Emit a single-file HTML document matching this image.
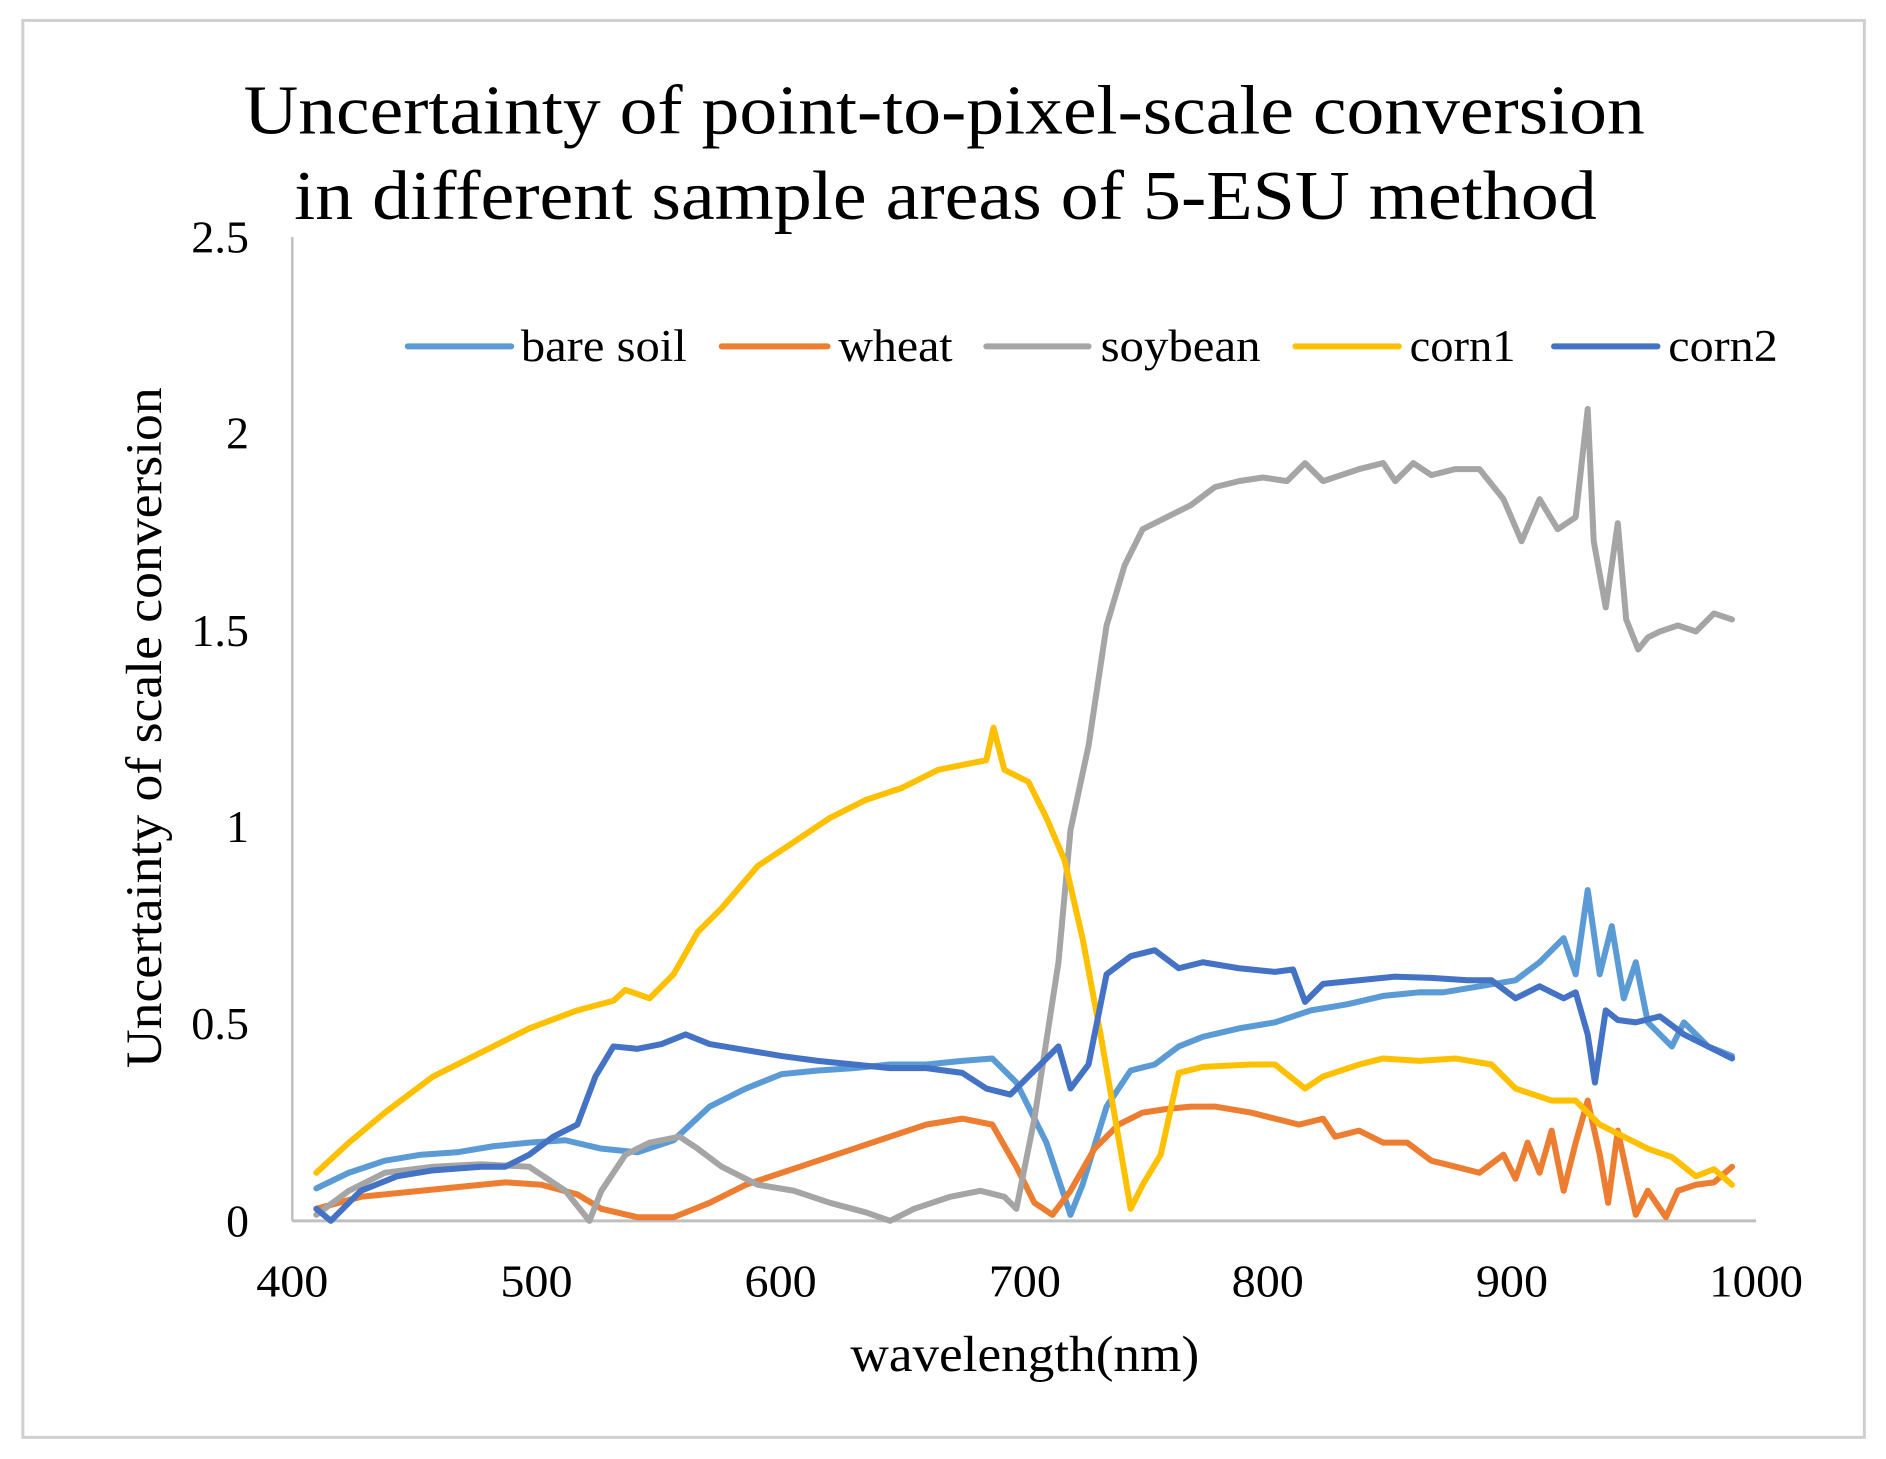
<!DOCTYPE html>
<html><head><meta charset="utf-8"><style>html,body{margin:0;padding:0;background:#fff}svg{display:block}</style></head>
<body>
<svg width="1886" height="1459" viewBox="0 0 1568 1213" xmlns="http://www.w3.org/2000/svg" font-family="Liberation Serif, serif">
<rect x="19" y="17" width="1531" height="1178" fill="#fff" stroke="#d0d0d0" stroke-width="2.5"/>
<text x="785" y="111" font-size="58" text-anchor="middle" textLength="1165" lengthAdjust="spacingAndGlyphs">Uncertainty of point-to-pixel-scale conversion</text>
<text x="786" y="182" font-size="58" text-anchor="middle" textLength="1083" lengthAdjust="spacingAndGlyphs">in different sample areas of 5-ESU method</text>
<g font-size="38" text-anchor="end">
<text x="207" y="210" textLength="48" lengthAdjust="spacingAndGlyphs">2.5</text>
<text x="207" y="373">2</text>
<text x="207" y="537" textLength="48" lengthAdjust="spacingAndGlyphs">1.5</text>
<text x="207" y="700">1</text>
<text x="207" y="864" textLength="48" lengthAdjust="spacingAndGlyphs">0.5</text>
<text x="207" y="1028">0</text>
</g>
<g font-size="38" text-anchor="middle">
<text x="243" y="1078" textLength="60" lengthAdjust="spacingAndGlyphs">400</text>
<text x="446" y="1078" textLength="60" lengthAdjust="spacingAndGlyphs">500</text>
<text x="649" y="1078" textLength="60" lengthAdjust="spacingAndGlyphs">600</text>
<text x="852" y="1078" textLength="60" lengthAdjust="spacingAndGlyphs">700</text>
<text x="1054" y="1078" textLength="60" lengthAdjust="spacingAndGlyphs">800</text>
<text x="1257" y="1078" textLength="60" lengthAdjust="spacingAndGlyphs">900</text>
<text x="1460" y="1078" textLength="78" lengthAdjust="spacingAndGlyphs">1000</text>
</g>
<text x="852" y="1140" font-size="42" text-anchor="middle" textLength="290" lengthAdjust="spacingAndGlyphs">wavelength(nm)</text>
<text transform="translate(134,605) rotate(-90)" font-size="42" text-anchor="middle" textLength="566" lengthAdjust="spacingAndGlyphs">Uncertainty of scale conversion</text>
<line x1="243" y1="197" x2="243" y2="1015" stroke="#bfbfbf" stroke-width="2"/>
<line x1="243" y1="1015" x2="1460" y2="1015" stroke="#bfbfbf" stroke-width="2.5"/>
<g stroke-width="5" stroke-linecap="round">
<line x1="339" y1="288" x2="425" y2="288" stroke="#5B9BD5"/>
<line x1="600" y1="288" x2="688" y2="288" stroke="#ED7D31"/>
<line x1="820" y1="288" x2="905" y2="288" stroke="#A5A5A5"/>
<line x1="1077" y1="288" x2="1163" y2="288" stroke="#FFC000"/>
<line x1="1292" y1="288" x2="1378" y2="288" stroke="#4472C4"/>
</g>
<g font-size="38">
<text x="433" y="300" textLength="138" lengthAdjust="spacingAndGlyphs">bare soil</text>
<text x="697" y="300" textLength="95" lengthAdjust="spacingAndGlyphs">wheat</text>
<text x="915" y="300" textLength="133" lengthAdjust="spacingAndGlyphs">soybean</text>
<text x="1172" y="300" textLength="88" lengthAdjust="spacingAndGlyphs">corn1</text>
<text x="1387" y="300" textLength="91" lengthAdjust="spacingAndGlyphs">corn2</text>
</g>
<g fill="none" stroke-width="5" stroke-linejoin="round" stroke-linecap="round">
<polyline stroke="#5B9BD5" points="263,988 290,975 320,965 350,960 380,958 410,953 440,950 470,948 500,955 530,958 560,948 590,920 620,905 650,893 680,890 710,888 740,885 770,885 800,882 825,880 845,900 870,950 890,1010 900,985 920,920 940,890 960,885 980,870 1000,862 1030,855 1060,850 1090,840 1120,835 1150,828 1180,825 1200,825 1230,820 1260,815 1280,800 1300,780 1310,810 1320,740 1330,810 1340,770 1350,830 1360,800 1370,850 1380,860 1390,870 1400,850 1420,870 1440,878"/>
<polyline stroke="#ED7D31" points="263,1005 300,995 350,990 400,985 420,983 450,985 480,993 500,1005 530,1012 560,1012 590,1000 620,985 650,975 680,965 710,955 740,945 770,935 800,930 825,935 845,970 860,1000 875,1010 890,990 910,955 930,935 950,925 970,922 990,920 1010,920 1040,925 1060,930 1080,935 1100,930 1110,945 1130,940 1150,950 1170,950 1190,965 1210,970 1230,975 1250,960 1260,980 1270,950 1280,975 1290,940 1300,990 1310,950 1320,915 1330,960 1337,1000 1345,940 1360,1010 1370,990 1385,1012 1395,990 1410,985 1425,983 1440,970"/>
<polyline stroke="#A5A5A5" points="263,1010 290,990 320,975 360,970 400,968 440,970 470,990 490,1015 500,990 520,960 540,950 565,945 580,955 600,970 630,985 660,990 690,1000 720,1008 740,1015 760,1005 790,995 815,990 835,995 845,1005 860,930 880,800 890,690 905,620 920,520 935,470 950,440 970,430 990,420 1010,405 1030,400 1050,397 1070,400 1085,385 1100,400 1115,395 1130,390 1150,385 1160,400 1175,385 1190,395 1210,390 1230,390 1250,415 1265,450 1280,415 1295,440 1310,430 1320,340 1325,450 1335,505 1340,470 1345,435 1352,515 1362,540 1370,530 1380,525 1395,520 1410,525 1425,510 1440,515"/>
<polyline stroke="#FFC000" points="263,975 290,950 320,925 360,895 400,875 440,855 480,840 510,832 520,823 540,830 560,810 580,775 600,755 630,720 660,700 690,680 720,665 750,655 780,640 800,636 820,632 826,605 835,640 855,650 870,680 885,715 900,780 915,860 928,935 940,1005 950,985 965,960 980,892 1000,887 1040,885 1060,885 1085,905 1100,895 1130,885 1150,880 1180,882 1210,880 1240,885 1260,905 1290,915 1310,915 1330,935 1350,945 1370,955 1390,962 1410,978 1425,972 1440,985"/>
<polyline stroke="#4472C4" points="263,1005 275,1015 300,990 330,978 360,973 400,970 420,970 440,960 460,945 480,935 495,895 510,870 530,872 550,868 570,860 590,868 620,873 650,878 680,882 710,885 740,888 770,888 800,892 820,905 840,910 860,890 880,870 890,905 905,885 920,810 940,795 960,790 980,805 1000,800 1030,805 1060,808 1075,806 1085,833 1100,818 1130,815 1160,812 1190,813 1220,815 1240,815 1260,830 1280,820 1300,830 1310,825 1320,860 1326,900 1335,840 1345,848 1360,850 1380,845 1400,860 1420,870 1440,880"/>
</g>
</svg>
</body></html>
